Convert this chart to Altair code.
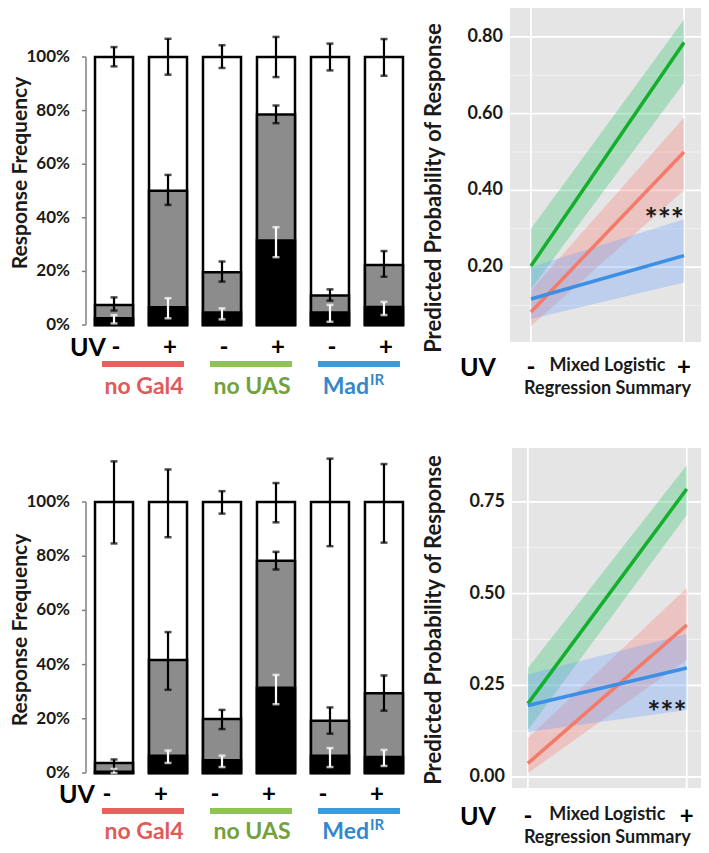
import altair as alt
import pandas as pd

FONT = "Lato"

# ---------------- data ----------------
bar_keys = ["G-", "G+", "U-", "U+", "M-", "M+"]
uv_signs = ["-", "+", "-", "+", "-", "+"]
group_first = ["G-", "U-", "M-"]
group_last = ["G+", "U+", "M+"]
top_groups = ["no Gal4", "no UAS", "Mad"]
bot_groups = ["no Gal4", "no UAS", "Med"]
superscript = "IR"
pct_ticks = [0, 0.2, 0.4, 0.6, 0.8, 1.0]

# top row bars (percent)
top_total = [7.5, 50.1, 19.7, 78.5, 11.0, 22.4]
top_strong = [2.5, 6.6, 4.7, 31.5, 4.7, 6.7]
top_total_lo = [5.4, 44.8, 16.2, 75.3, 9.1, 18.0]
top_total_hi = [10.3, 56.0, 23.7, 81.9, 13.3, 27.6]
top_strong_lo = [0.6, 2.5, 2.1, 25.3, 1.2, 3.7]
top_strong_hi = [3.7, 10.0, 6.2, 36.5, 7.5, 8.6]
top_all_lo = [96.5, 93.4, 95.9, 92.5, 95.0, 93.0]
top_all_hi = [103.7, 106.8, 104.4, 107.5, 105.0, 106.7]

# bottom row bars (percent)
bot_total = [3.7, 41.7, 19.9, 78.3, 19.3, 29.4]
bot_strong = [0.5, 6.4, 4.7, 31.5, 6.4, 5.9]
bot_total_lo = [1.0, 30.7, 16.2, 75.1, 14.5, 23.0]
bot_total_hi = [5.0, 52.0, 23.3, 81.6, 24.2, 36.0]
bot_strong_lo = [0.0, 3.7, 2.2, 25.4, 2.2, 2.6]
bot_strong_hi = [1.5, 8.3, 6.4, 36.2, 9.2, 8.5]
bot_all_lo = [84.7, 87.0, 95.7, 92.5, 83.7, 85.0]
bot_all_hi = [115.0, 112.0, 104.0, 107.0, 116.0, 114.0]

# mixed logistic regression summaries (UV -, UV +)
uv_x = [0, 1]
uv_marks = ["-", "+"]
top_red_fit, top_red_lo, top_red_hi = [0.083, 0.500], [0.047, 0.400], [0.140, 0.590]
top_green_fit, top_green_lo, top_green_hi = [0.203, 0.785], [0.143, 0.680], [0.300, 0.845]
top_blue_fit, top_blue_lo, top_blue_hi = [0.117, 0.230], [0.065, 0.160], [0.200, 0.325]
bot_red_fit, bot_red_lo, bot_red_hi = [0.037, 0.414], [0.010, 0.320], [0.106, 0.515]
bot_green_fit, bot_green_lo, bot_green_hi = [0.200, 0.785], [0.128, 0.714], [0.297, 0.850]
bot_blue_fit, bot_blue_lo, bot_blue_hi = [0.195, 0.297], [0.123, 0.183], [0.280, 0.390]
top_ticks = [0.2, 0.4, 0.6, 0.8]
top_minor = [0.1, 0.3, 0.5, 0.7]
bot_ticks = [0.0, 0.25, 0.5, 0.75]
bot_minor = [0.125, 0.375, 0.625]
top_star_y = 0.343
bot_star_y = 0.196

# ---------------- styles ----------------
line_colors = ["#F47A6A", "#13AF2B", "#3C8FE6"]
ribbon_colors = ["#F8766D", "#1DBF60", "#619CFF"]
underline_colors = ["#E8615F", "#8FC357", "#3D9AD8"]
label_colors = ["#E05A5A", "#74A03C", "#3388CC"]
TXT = "#1a1a1a"
AXIS_GRAY = "#808080"


def bar_panel(groups, total, strong, total_lo, total_hi, strong_lo, strong_hi,
              all_lo, all_hi, y_range, title_y, sign_y, sign_dx, uv_pix, line_y, label_y):
    bars = pd.DataFrame({
        "key": bar_keys, "sign": uv_signs, "full": [1.0] * len(bar_keys),
        "total": [v / 100 for v in total], "strong": [v / 100 for v in strong],
    })
    err = pd.DataFrame({
        "key": bar_keys * 3,
        "level": ["all"] * 6 + ["total"] * 6 + ["strong"] * 6,
        "lo": [v / 100 for v in all_lo + total_lo + strong_lo],
        "hi": [v / 100 for v in all_hi + total_hi + strong_hi],
    })
    grp = pd.DataFrame({"first": group_first, "last": group_last, "group": groups})
    sup = pd.DataFrame({"first": [group_first[2]], "t": [superscript], "group": [groups[2]]})
    uvdf = pd.DataFrame({"t": ["UV"]})
    tick_df = pd.DataFrame({"v": pct_ticks})
    dom_df = pd.DataFrame({"y0": [pct_ticks[0]], "y1": [pct_ticks[-1]]})
    title_df = pd.DataFrame({"t": ["Response Frequency"]})

    xs = alt.Scale(domain=bar_keys, range=[78, 404], paddingInner=0.296, paddingOuter=0.167)
    ys = alt.Scale(domain=[0, 1], range=y_range, nice=False, zero=False)

    def X(f="key"):
        return alt.X(f + ":N", sort=bar_keys, scale=xs, axis=None)

    def Y(f):
        return alt.Y(f + ":Q", scale=ys, axis=None)

    ecol = alt.Color("level:N", scale=alt.Scale(domain=["all", "total", "strong"],
                                                 range=["black", "black", "white"]), legend=None)
    lab_fill = alt.Fill("group:N", scale=alt.Scale(domain=groups, range=label_colors), legend=None)

    # axis drawn from the y scale
    ax_line = alt.Chart(dom_df).mark_rule(color=AXIS_GRAY, strokeWidth=1.5).encode(
        x=alt.value(78), y=Y("y0"), y2="y1:Q")
    ax_ticks = alt.Chart(tick_df).mark_rule(color=AXIS_GRAY, strokeWidth=1.5).encode(
        x=alt.value(74), x2=alt.value(78), y=Y("v"))
    ax_labels = alt.Chart(tick_df).mark_text(font=FONT, fontSize=17, fontWeight="bold",
                                             align="right", baseline="middle", color=TXT).encode(
        x=alt.value(62), y=Y("v"), text=alt.Text("v:Q", format=".0%"))
    ax_title = alt.Chart(title_df).mark_text(font=FONT, fontSize=21, fontWeight="bold",
                                             angle=270, align="center", baseline="alphabetic",
                                             color=TXT).encode(
        x=alt.value(19), y=alt.value(title_y), text="t:N")

    white = alt.Chart(bars).mark_bar(fill="white", stroke="black", strokeWidth=2.5).encode(
        x=X(), y=Y("full"))
    gray = alt.Chart(bars).mark_bar(fill="#8c8c8c", stroke="black", strokeWidth=2.5).encode(
        x=X(), y=Y("total"))
    black = alt.Chart(bars).mark_bar(fill="black", stroke="black", strokeWidth=2.5).encode(
        x=X(), y=Y("strong"))
    erule = alt.Chart(err).mark_rule(strokeWidth=2.2).encode(
        x=X(), y=Y("lo"), y2="hi:Q", color=ecol)
    elo = alt.Chart(err).mark_tick(thickness=2.5, size=7).encode(
        x=X(), y=Y("lo"), color=ecol)
    ehi = alt.Chart(err).mark_tick(thickness=2.5, size=7).encode(
        x=X(), y=Y("hi"), color=ecol)
    signs = alt.Chart(bars).mark_text(font=FONT, fontSize=24, fontWeight="bold",
                                      color="black", dx=sign_dx).encode(
        x=X(), y=alt.value(sign_y), text="sign:N")
    uv = alt.Chart(uvdf).mark_text(font=FONT, fontSize=25, fontWeight="bold",
                                   align="left", color="black").encode(
        x=alt.value(uv_pix), y=alt.value(sign_y), text="t:N")
    ulines = alt.Chart(grp).mark_rule(strokeWidth=6, xOffset=-12, x2Offset=16).encode(
        x=X("first"), x2="last:N", y=alt.value(line_y),
        stroke=alt.Stroke("group:N", scale=alt.Scale(domain=groups, range=underline_colors),
                          legend=None))
    labels_c = alt.Chart(grp.iloc[:2]).mark_text(font=FONT, fontSize=23, fontWeight="bold",
                                                 dx=30).encode(
        x=X("first"), y=alt.value(label_y), text="group:N", fill=lab_fill)
    label_m = alt.Chart(grp.iloc[2:]).mark_text(font=FONT, fontSize=23, fontWeight="bold",
                                                align="right", dx=39).encode(
        x=X("first"), y=alt.value(label_y), text="group:N", fill=lab_fill)
    label_s = alt.Chart(sup).mark_text(font=FONT, fontSize=15, fontWeight="bold",
                                       align="left", dx=40).encode(
        x=X("first"), y=alt.value(label_y - 7), text="t:N", fill=lab_fill)
    return alt.layer(ax_line, ax_ticks, ax_labels, ax_title, white, gray, black, erule,
                     elo, ehi, signs, uv, ulines, labels_c, label_m, label_s)


def line_panel(groups, fits, los, his, x_dom, x_rng, y_dom, y_rng, ticks, minor,
               title_x, title_y, star_y, text_y, uv_pix):
    rows = []
    for g, f, lo, hi in zip(groups, fits, los, his):
        for x, fv, lv, hv in zip(uv_x, f, lo, hi):
            rows.append({"group": g, "uv": x, "fit": fv, "lo": lv, "hi": hv})
    df = pd.DataFrame(rows)
    bgdf = pd.DataFrame({"x0": [x_dom[0]], "x1": [x_dom[1]], "y0": [y_dom[0]], "y1": [y_dom[1]]})
    major_df = pd.DataFrame({"v": ticks, "x0": [x_dom[0]] * len(ticks), "x1": [x_dom[1]] * len(ticks)})
    minor_df = pd.DataFrame({"v": minor, "x0": [x_dom[0]] * len(minor), "x1": [x_dom[1]] * len(minor)})
    vert_df = pd.DataFrame({"u": uv_x, "y0": [y_dom[0]] * 2, "y1": [y_dom[1]] * 2})
    sign_df = pd.DataFrame({"u": uv_x, "t": uv_marks})
    star_df = pd.DataFrame({"u": [uv_x[1]], "v": [star_y], "t": ["***"]})
    mid = (uv_x[0] + uv_x[1]) / 2
    cap_df = pd.DataFrame({"u": [mid], "t": ["Mixed Logistic"]})
    cap2_df = pd.DataFrame({"u": [mid], "t": ["Regression Summary"]})
    uvdf = pd.DataFrame({"t": ["UV"]})
    title_df = pd.DataFrame({"t": ["Predicted Probability of Response"]})

    xs = alt.Scale(domain=x_dom, range=x_rng, nice=False, zero=False)
    ys = alt.Scale(domain=y_dom, range=y_rng, nice=False, zero=False)

    def X(f):
        return alt.X(f + ":Q", scale=xs, axis=None)

    def Y(f):
        return alt.Y(f + ":Q", scale=ys, axis=None)

    fill = alt.Fill("group:N", scale=alt.Scale(domain=groups, range=ribbon_colors), legend=None)
    stroke = alt.Stroke("group:N", scale=alt.Scale(domain=groups, range=line_colors), legend=None)

    bg = alt.Chart(bgdf).mark_rect(color="#e5e5e5").encode(
        x=X("x0"), x2="x1:Q", y=Y("y0"), y2="y1:Q")
    gminor = alt.Chart(minor_df).mark_rule(color="#f3f3f3", strokeWidth=1).encode(
        x=X("x0"), x2="x1:Q", y=Y("v"))
    gmajor = alt.Chart(major_df).mark_rule(color="white", strokeWidth=1.8).encode(
        x=X("x0"), x2="x1:Q", y=Y("v"))
    gvert = alt.Chart(vert_df).mark_rule(color="white", strokeWidth=1.8).encode(
        x=X("u"), y=Y("y0"), y2="y1:Q")
    ax_labels = alt.Chart(major_df).mark_text(font=FONT, fontSize=18, fontWeight="bold",
                                              align="right", baseline="middle", color=TXT).encode(
        x=alt.value(x_rng[0] - 7), y=Y("v"), text=alt.Text("v:Q", format=".2f"))
    ax_title = alt.Chart(title_df).mark_text(font=FONT, fontSize=22, fontWeight="bold",
                                             angle=270, align="center", baseline="alphabetic",
                                             color=TXT).encode(
        x=alt.value(title_x), y=alt.value(title_y), text="t:N")
    ribbons = alt.Chart(df).mark_area(opacity=0.3).encode(
        x=X("uv"), y=Y("lo"), y2="hi:Q", fill=fill)
    lines = alt.Chart(df).mark_line(strokeWidth=3.5).encode(
        x=X("uv"), y=Y("fit"), stroke=stroke)
    stars = alt.Chart(star_df).mark_text(font=FONT, fontSize=31, fontWeight="bold",
                                         align="right", dy=9, color=TXT).encode(
        x=X("u"), y=Y("v"), text="t:N")
    signs = alt.Chart(sign_df).mark_text(font=FONT, fontSize=24, fontWeight="bold",
                                         color="black").encode(
        x=X("u"), y=alt.value(text_y), text="t:N")
    cap1 = alt.Chart(cap_df).mark_text(font=FONT, fontSize=18, fontWeight="bold",
                                       color=TXT).encode(
        x=X("u"), y=alt.value(text_y - 2), text="t:N")
    cap2 = alt.Chart(cap2_df).mark_text(font=FONT, fontSize=18, fontWeight="bold",
                                        color=TXT).encode(
        x=X("u"), y=alt.value(text_y + 21), text="t:N")
    uv = alt.Chart(uvdf).mark_text(font=FONT, fontSize=25, fontWeight="bold",
                                   align="left", color="black").encode(
        x=alt.value(uv_pix), y=alt.value(text_y), text="t:N")
    return alt.layer(bg, gminor, gmajor, gvert, ax_labels, ax_title, ribbons, lines,
                     stars, signs, cap1, cap2, uv)


bar_top = bar_panel(top_groups, top_total, top_strong, top_total_lo, top_total_hi,
                    top_strong_lo, top_strong_hi, top_all_lo, top_all_hi,
                    y_range=[317, 49], title_y=165, sign_y=340, sign_dx=2, uv_pix=62,
                    line_y=356, label_y=379)
bar_bot = bar_panel(bot_groups, bot_total, bot_strong, bot_total_lo, bot_total_hi,
                    bot_strong_lo, bot_strong_hi, bot_all_lo, bot_all_hi,
                    y_range=[765, 494], title_y=622, sign_y=787, sign_dx=-7, uv_pix=51,
                    line_y=803, label_y=824)

line_top = line_panel(top_groups,
                      [top_red_fit, top_green_fit, top_blue_fit],
                      [top_red_lo, top_green_lo, top_blue_lo],
                      [top_red_hi, top_green_hi, top_blue_hi],
                      x_dom=[-0.137, 1.111], x_rng=[502, 693],
                      y_dom=[0.005, 0.875], y_rng=[334, 0],
                      ticks=top_ticks, minor=top_minor,
                      title_x=433, title_y=180, star_y=top_star_y, text_y=360, uv_pix=452)
line_bot = line_panel(bot_groups,
                      [bot_red_fit, bot_green_fit, bot_blue_fit],
                      [bot_red_lo, bot_green_lo, bot_blue_lo],
                      [bot_red_hi, bot_green_hi, bot_blue_hi],
                      x_dom=[-0.10, 1.09], x_rng=[504, 693],
                      y_dom=[-0.030, 0.897], y_rng=[780, 440],
                      ticks=bot_ticks, minor=bot_minor,
                      title_x=433, title_y=612, star_y=bot_star_y, text_y=809, uv_pix=452)

chart = alt.layer(bar_top, line_top, bar_bot, line_bot).resolve_scale(
    x="independent", y="independent", color="independent",
    fill="independent", stroke="independent"
).properties(
    width=693, height=845, padding=0,
    autosize=alt.AutoSizeParams(type="none"),
).configure_view(stroke=None)

chart.save("out.html", embed_options={"renderer": "svg", "actions": False})
